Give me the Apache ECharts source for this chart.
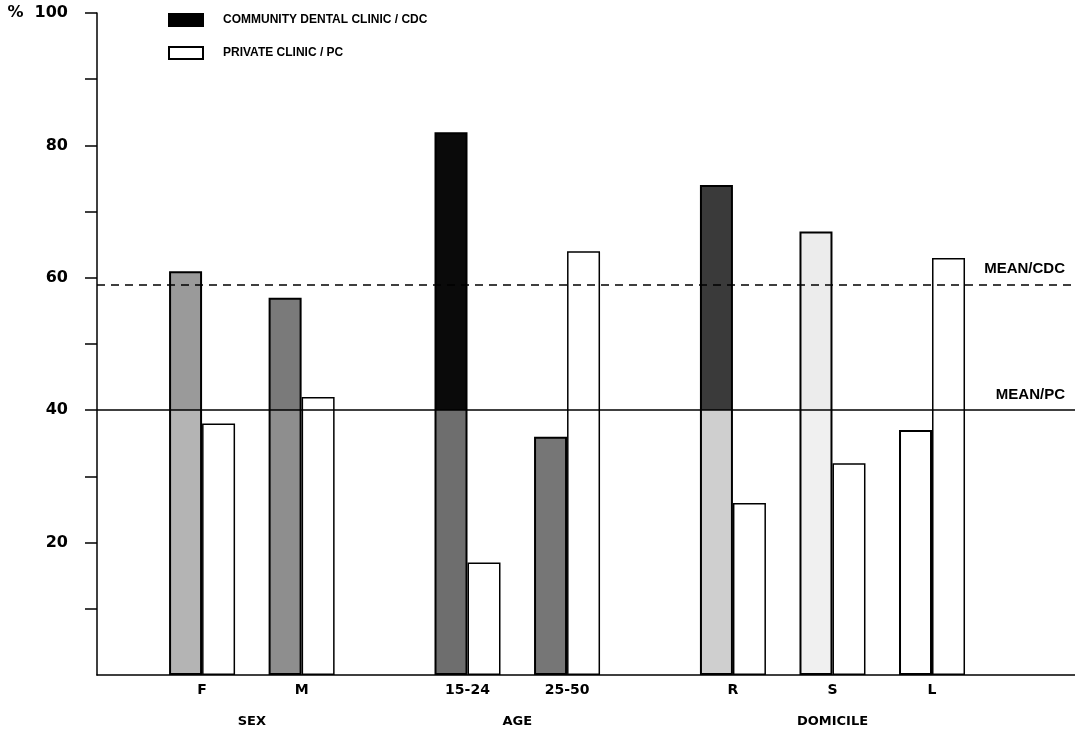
<!DOCTYPE html>
<html>
<head>
<meta charset="utf-8">
<script src="https://cdn.jsdelivr.net/npm/echarts@6/dist/echarts.min.js"></script>
<style>
html, body { margin: 0; background: #fff; }
#main { width: 1075px; height: 729px; }
</style>
</head>
<body>
<div id="main"></div>
<script>
var groupNames = ['SEX', 'AGE', 'DOMICILE'];
var groupCats = [['F', 'M'], ['15-24', '25-50'], ['R', 'S', 'L']];
var cdcValues = [61, 57, 82, 36, 74, 67, 37];
var pcValues = [38, 42, 17, 64, 26, 32, 63];
var meanCdc = 59;
var meanPc = 40;
var yTickLabels = [20, 40, 60, 80, 100];

// grey shades of the printed CDC bars: [above mean/PC, below mean/PC]
var cdcShades = [
    ['#9a9a9a', '#b4b4b4'],
    ['#7a7a7a', '#8e8e8e'],
    ['#0a0a0a', '#6e6e6e'],
    ['#767676', '#767676'],
    ['#3a3a3a', '#cfcfcf'],
    ['#ececec', '#f0f0f0'],
    ['#ffffff', '#ffffff']
];

var FONT = '"DejaVu Sans", sans-serif';
var SANS = '"Liberation Sans", Arial, sans-serif';
var NARROW = '"Liberation Sans Narrow", "Arial Narrow", "Liberation Sans", sans-serif';

// category slots on a value axis: 3 units inside a group, 5 between groups,
// label ticks every 1/6 unit so each slot centre falls on a tick
var STEP = 1 / 6;
var cats = [], pos = [], groupPos = [];
var p = 19 * STEP;
groupCats.forEach(function (g) {
    var first = p;
    g.forEach(function (c) {
        cats.push(c);
        pos.push(p);
        p += 3;
    });
    groupPos.push((first + p - 3) / 2);
    p += 2;
});

var xMin = 0, xMax = 29.476;

// y ticks every 10, none at 0
var yTicks = [];
for (var t = 10; t <= 100; t += 10) yTicks.push(t);

function near(list, v) {
    for (var i = 0; i < list.length; i++) {
        if (Math.abs(list[i] - v) < 0.02) return i;
    }
    return -1;
}

function shade(i, v) {
    var s = cdcShades[i];
    if (v <= meanPc || s[0] === s[1]) return s[1];
    var f = (v - meanPc) / v;
    return new echarts.graphic.LinearGradient(0, 0, 0, 1, [
        {offset: 0, color: s[0]}, {offset: f, color: s[0]},
        {offset: f, color: s[1]}, {offset: 1, color: s[1]}
    ]);
}

var cdcData = cdcValues.map(function (v, i) {
    return {value: [pos[i], v], itemStyle: {color: shade(i, v)}};
});
var pcData = pcValues.map(function (v, i) {
    return [pos[i], v];
});

var chart = echarts.init(document.getElementById('main'));
chart.setOption({
    animation: false,
    backgroundColor: '#fff',
    grid: {left: 97, right: 0, top: 13, bottom: 54},
    legend: {
        orient: 'vertical',
        left: 163,
        top: 8,
        itemWidth: 34,
        itemHeight: 12,
        itemGap: 19,
        icon: 'rect',
        textStyle: {fontFamily: NARROW, fontWeight: 'bold', fontSize: 12, color: '#000', padding: [0, 0, 0, 15]},
        data: ['COMMUNITY DENTAL CLINIC / CDC', 'PRIVATE CLINIC / PC']
    },
    xAxis: [{
        type: 'value',
        min: xMin,
        max: xMax,
        interval: STEP,
        axisLine: {show: true, onZero: false, lineStyle: {color: '#000', width: 1.5}},
        axisTick: {show: false},
        splitLine: {show: false},
        axisLabel: {
            margin: 8,
            color: '#000',
            fontFamily: FONT,
            fontWeight: 'bold',
            fontSize: 14,
            showMinLabel: false,
            showMaxLabel: false,
            formatter: function (v) {
                var k = near(pos, v);
                return k >= 0 ? cats[k] : '';
            }
        }
    }, {
        type: 'value',
        position: 'bottom',
        offset: 31,
        min: xMin,
        max: xMax,
        interval: STEP,
        axisLine: {show: false},
        axisTick: {show: false},
        splitLine: {show: false},
        axisLabel: {
            margin: 9,
            color: '#000',
            fontFamily: FONT,
            fontWeight: 'bold',
            fontSize: 13,
            showMinLabel: false,
            showMaxLabel: false,
            formatter: function (v) {
                var k = near(groupPos, v);
                return k >= 0 ? groupNames[k] : '';
            }
        }
    }],
    yAxis: {
        type: 'value',
        min: 0,
        max: 100,
        interval: 10,
        axisLine: {show: true, onZero: false, lineStyle: {color: '#000', width: 1.5}},
        axisTick: {show: true, length: 12, customValues: yTicks, lineStyle: {color: '#000', width: 1.5}},
        splitLine: {show: false},
        axisLabel: {
            margin: 29,
            color: '#000',
            fontFamily: FONT,
            fontWeight: 'bold',
            fontSize: 16,
            customValues: yTickLabels,
            formatter: function (v) {
                return v === 100 ? '%  100' : String(v);
            }
        }
    },
    series: [{
        name: 'COMMUNITY DENTAL CLINIC / CDC',
        type: 'bar',
        xAxisIndex: 0,
        barWidth: 33,
        barGap: '0%',
        itemStyle: {color: '#000', borderColor: '#000', borderWidth: 2},
        data: cdcData
    }, {
        name: 'PRIVATE CLINIC / PC',
        type: 'bar',
        xAxisIndex: 0,
        barWidth: 33,
        barGap: '0%',
        itemStyle: {color: '#fff', borderColor: '#000', borderWidth: 1.5},
        data: pcData,
        markLine: {
            silent: true,
            symbol: 'none',
            lineStyle: {color: '#000', width: 1.5},
            label: {
                position: 'insideEndTop',
                formatter: '{b}',
                color: '#000',
                fontFamily: SANS,
                fontWeight: 'bold',
                fontSize: 15,
                distance: [10, 8]
            },
            data: [
                {name: 'MEAN/CDC', yAxis: meanCdc, lineStyle: {type: [8, 6]}},
                {name: 'MEAN/PC', yAxis: meanPc, lineStyle: {type: 'solid'}}
            ]
        }
    }]
});
</script>
</body>
</html>
